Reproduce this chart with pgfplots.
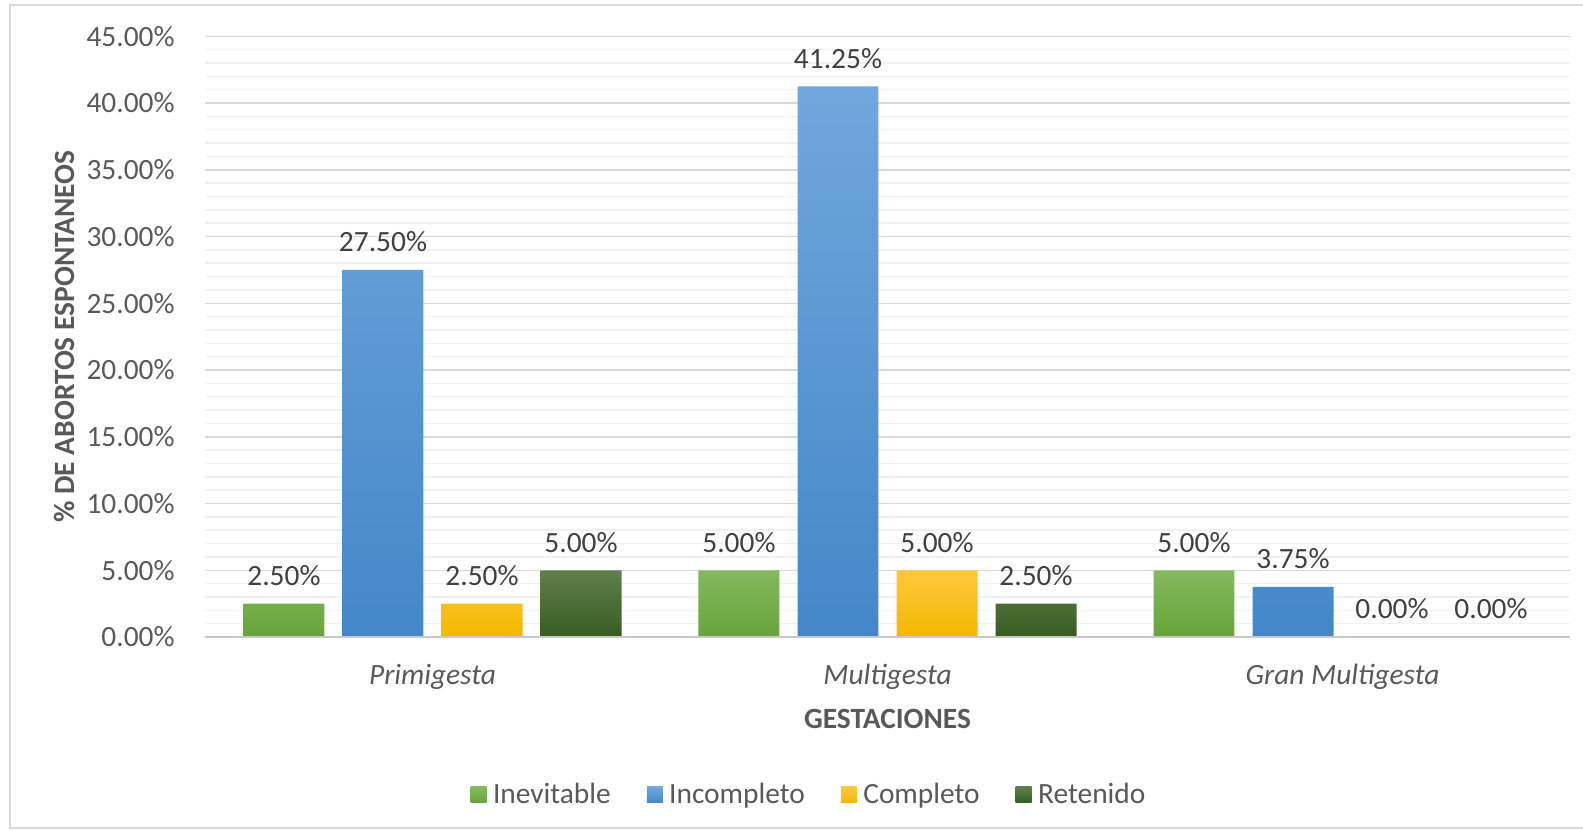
\documentclass[border=0pt]{standalone}
\usepackage{pgfplots}
\pgfplotsset{compat=1.18}
\usepackage{fontspec}
\setmainfont{Carlito}
\pgfkeys{/pgf/number format/assume math mode=true}
\definecolor{txt}{HTML}{595959}
\definecolor{lbl}{HTML}{404040}
\definecolor{majg}{HTML}{D9D9D9}
\definecolor{ming}{HTML}{F0F0F0}
\definecolor{basel}{HTML}{C8C8C8}
\definecolor{gtop}{HTML}{84BA5E}
\definecolor{gbot}{HTML}{67A43A}
\definecolor{btop}{HTML}{70A7DD}
\definecolor{bbot}{HTML}{4487C8}
\definecolor{ytop}{HTML}{FFC83C}
\definecolor{ybot}{HTML}{F2B800}
\definecolor{dtop}{HTML}{5F7F4C}
\definecolor{dbot}{HTML}{375C20}
\newcommand\cf{\fontsize{14.7}{17.6}\selectfont}
\begin{document}
\begin{tikzpicture}
\useasboundingbox (-102.5pt,-96.5pt) rectangle (689pt,318.5pt);
\draw[majg, line width=0.75pt] (690pt,316pt) -- (-97.5pt,316pt) -- (-97.5pt,-95.5pt) -- (690pt,-95.5pt);
\begin{axis}[
  at={(0,0)}, anchor=south west,
  scale only axis, width=682.5pt, height=300.35pt,
  xmin=-0.5, xmax=2.5, ymin=0, ymax=45,
  ybar, bar width=0.178,
  axis line style={draw=none},
  major tick length=0pt, minor tick length=0pt,
  ytick={0,5,...,45}, minor y tick num=4,
  ymajorgrids, yminorgrids,
  major grid style={majg, line width=0.75pt},
  minor grid style={ming, line width=0.75pt},
  yticklabel={\pgfmathprintnumber[fixed,fixed zerofill,precision=2]{\tick}\%},
  yticklabel style={font=\cf, text=txt, anchor=east, inner sep=0pt, xshift=-15pt},
  xtick={0,1,2},
  xticklabels={Primigesta,Multigesta,Gran Multigesta},
  xticklabel style={font=\cf\itshape, text=txt, anchor=center, inner sep=0pt, yshift=-20pt},
  ylabel={\% DE ABORTOS ESPONTANEOS},
  ylabel style={at={(axis description cs:-0.1033,0.5)}, anchor=center, font=\cf\bfseries, text=txt},
  xlabel={GESTACIONES},
  xlabel style={at={(axis description cs:0.5,-0.1365)}, anchor=center, font=\cf\bfseries, text=txt},
  nodes near coords={\pgfmathprintnumber[fixed,fixed zerofill,precision=2]{\pgfplotspointmeta}\%},
  nodes near coords style={font=\cf, text=lbl, anchor=center, yshift=14pt},
  legend style={at={(axis description cs:0.4432,-0.263)}, anchor=center, draw=none, fill=none,
    legend columns=-1, font=\cf, text=txt,
    /tikz/every odd column/.append style={column sep=1.2pt},
    /tikz/every even column/.append style={column sep=16pt}},
  legend image code/.code={\path[#1] (0pt,-4pt) rectangle (8pt,4pt);},
]
\addplot[draw=none, top color=gtop, bottom color=gbot, bar shift=-0.3264] coordinates {(0,2.5) (1,5) (2,5)};
\addplot[draw=none, top color=btop, bottom color=bbot, bar shift=-0.1088] coordinates {(0,27.5) (1,41.25) (2,3.75)};
\addplot[draw=none, top color=ytop, bottom color=ybot, bar shift=0.1088] coordinates {(0,2.5) (1,5) (2,0)};
\addplot[draw=none, top color=dtop, bottom color=dbot, bar shift=0.3264] coordinates {(0,5) (1,2.5) (2,0)};
\draw[basel, line width=0.75pt] (axis cs:-0.5,0) -- (axis cs:2.5,0);
\legend{Inevitable,Incompleto,Completo,Retenido}
\end{axis}
\end{tikzpicture}
\end{document}
